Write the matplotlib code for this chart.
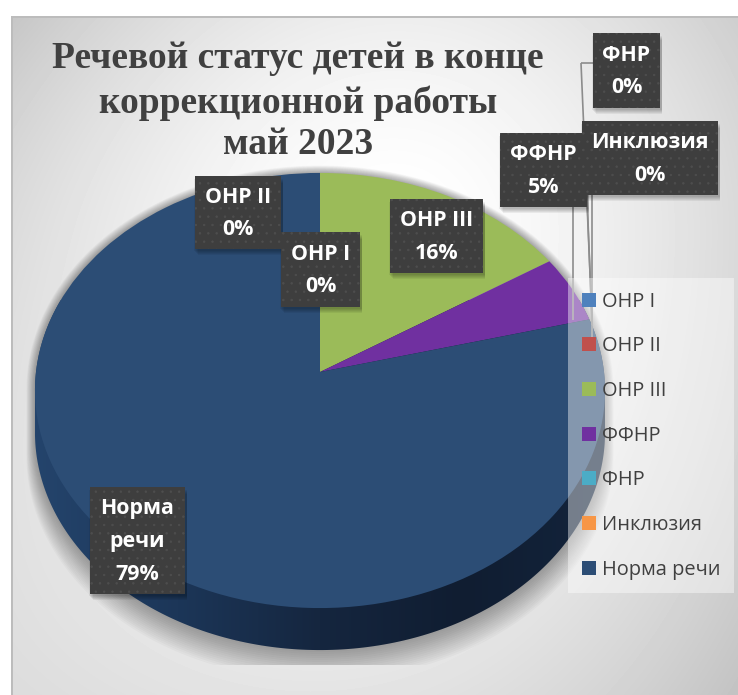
# Речевой статус детей - pie chart with fake 3D wall
import numpy as np
import matplotlib
matplotlib.use('Agg')
import matplotlib.pyplot as plt
from matplotlib.patches import Rectangle, Polygon
from matplotlib.transforms import Transform

# Data
categories = ['ОНР I', 'ОНР II', 'ОНР III', 'ФФНР', 'ФНР', 'Инклюзия', 'Норма речи']
values = [0, 0, 16, 5, 0, 0, 79]
colors = ['#4f81bd', '#c0504d', '#9bbb59', '#7030a0', '#4bacc6', '#f79646', '#2c4d75']
title_lines = ['Речевой статус детей в конце', 'коррекционной работы', 'май 2023']

# Label boxes in pixels (x0, y0, x1, y1)
label_boxes = {
    'ОНР I': (281, 232, 360, 307),
    'ОНР II': (195, 176, 281, 249),
    'ОНР III': (390, 199, 483, 273),
    'ФФНР': (500, 133, 587, 207),
    'ФНР': (593, 33, 660, 108),
    'Инклюзия': (582, 121, 718, 195),
    'Норма речи': (90, 487, 185, 594),
}

# Pie geometry in pixels
CX, CY = 320, 372
TILT_K = 0.085
TILT_A = 216
TILT_B = 284
DEPTH = 42


class Tilt(Transform):
    # unit circle to the perspective ellipse, y axis pointing down in pixels
    input_dims = 2
    output_dims = 2

    def transform_non_affine(self, values):
        values = np.asarray(values, dtype=float)
        w = 1 + TILT_K * values[:, 1]
        return np.column_stack((CX + TILT_B * values[:, 0] / w,
                                CY - TILT_A * values[:, 1] / w))


def arc(t0, t1):
    t = np.linspace(t0, t1, 180)
    return Tilt().transform_non_affine(np.column_stack((np.cos(t), np.sin(t))))


def body(shift, grow=0.0):
    # top half of the face plus the lower half pushed down by shift
    t0 = np.arcsin(TILT_K)
    top = arc(-t0, np.pi + t0)
    low = arc(np.pi + t0, 2 * np.pi - t0)
    p = np.vstack((top, low + [0, shift]))
    mid = p.mean(axis=0)
    return mid + (p - mid) * (1 + grow)


plt.rcParams['font.family'] = ['Open Sans', 'DejaVu Sans']
fig = plt.figure(figsize=(7.38, 6.95), dpi=100, facecolor='white')
ax = fig.add_axes([0, 0, 1, 1])

wedges, _ = ax.pie(values, colors=colors, startangle=90, counterclock=False, radius=1)

ax.set_aspect('auto')
ax.axis('off')

# Background
xx, yy = np.meshgrid(np.arange(738), np.arange(695))
ry = np.where(yy < 230, 560, 850)
r = np.hypot((xx - 400) / 560, (yy - 230) / ry)
shade = 1.0 - 0.33 * r ** 1.6 + 0.14 * (1 - xx / 738) ** 3 * (yy / 695)
shade = np.clip(shade, 0, 1)
bg = ax.imshow(shade, cmap='gray', vmin=0, vmax=1, extent=(0, 738, 695, 0), aspect='auto', zorder=0)
bg.set_clip_path(Rectangle((11, 16), 727, 679, transform=ax.transData))
ax.add_patch(Rectangle((11, 16), 2, 679, fc='#bcbcbc', ec='none', zorder=0.5))
ax.add_patch(Rectangle((11, 16), 727, 1.5, fc='#bcbcbc', ec='none', zorder=0.5))

# Soft shadow under the pie
floor = Rectangle((0, 0), 738, 665, transform=ax.transData)
for i in range(16):
    s = ax.add_patch(Polygon(body(DEPTH + 1.5 * i, 0.002 * i), closed=True,
                             fc='black', ec='none', alpha=0.022, zorder=1))
    s.set_clip_path(floor)

# Wall
wall_clip = Polygon(body(DEPTH), closed=True, transform=ax.transData)
grad = np.linspace(0, 1, 256).reshape(1, -1)
wall_cmap = matplotlib.colors.LinearSegmentedColormap.from_list(
    'wall', ['#24446c', '#1c3658', '#15263f', '#101d31', '#13243c'])
wall = ax.imshow(grad, cmap=wall_cmap, extent=(35, 605, 695, 300), aspect='auto', zorder=2)
wall.set_clip_path(wall_clip)
ax.set_xlim(0, 738)
ax.set_ylim(695, 0)

# Top face
for w in wedges:
    w.set_transform(Tilt() + ax.transData)
    w.set_zorder(3)
    w.set_edgecolor('none')
    w.set_clip_on(False)

# Leader lines
leader_x = [[581, 593], [581, 592], [573, 573], [592, 592], [587, 592]]
leader_y = [[63, 63], [63, 320], [207, 320], [195, 345], [195, 325]]
for lx, ly in zip(leader_x, leader_y):
    ax.plot(lx, ly, color='#8c8c8c', lw=1.2, zorder=4, solid_capstyle='butt')

# Data labels
plt.rcParams['hatch.linewidth'] = 0.5
for name, val in zip(categories, values):
    x0, y0, x1, y1 = label_boxes[name]
    for i in range(5):
        ax.add_patch(Rectangle((x0 - 1 + i, y0 + 3 + i), x1 - x0 + 3 - i, y1 - y0 - 1,
                               fc='black', ec='none', alpha=0.06, zorder=5))
    ax.add_patch(Rectangle((x0, y0), x1 - x0, y1 - y0, fc='#3e3e3e', ec='#4e4e4e',
                           hatch='..', lw=0, zorder=6))
    words = name if name != 'Норма речи' else 'Норма\nречи'
    ax.text((x0 + x1) / 2, (y0 + y1) / 2 + 1, f'{words}\n{val}%', color='white', fontsize=15.4,
            fontweight='bold', ha='center', va='center', linespacing=1.72, zorder=7)

# Legend
leg = ax.legend(wedges, categories, loc='upper left', bbox_to_anchor=(568 / 738, 1 - 278 / 695),
                frameon=True, fontsize=14.4, labelspacing=1.235, handlelength=0.7, handleheight=0.7,
                handletextpad=0.3, borderpad=0.68, borderaxespad=0, fancybox=False,
                labelcolor='#404040')
leg.get_frame().set(facecolor='white', edgecolor='none', alpha=0.42)
leg.set_zorder(5.5)

# Title
title_y = [59, 103, 145]
for line, ty in zip(title_lines, title_y):
    ax.text(298, ty, line, family='Liberation Serif', fontweight='bold', fontsize=27,
            color='#404040', ha='center', va='center', zorder=8)

fig.savefig('out.png', dpi=100)
